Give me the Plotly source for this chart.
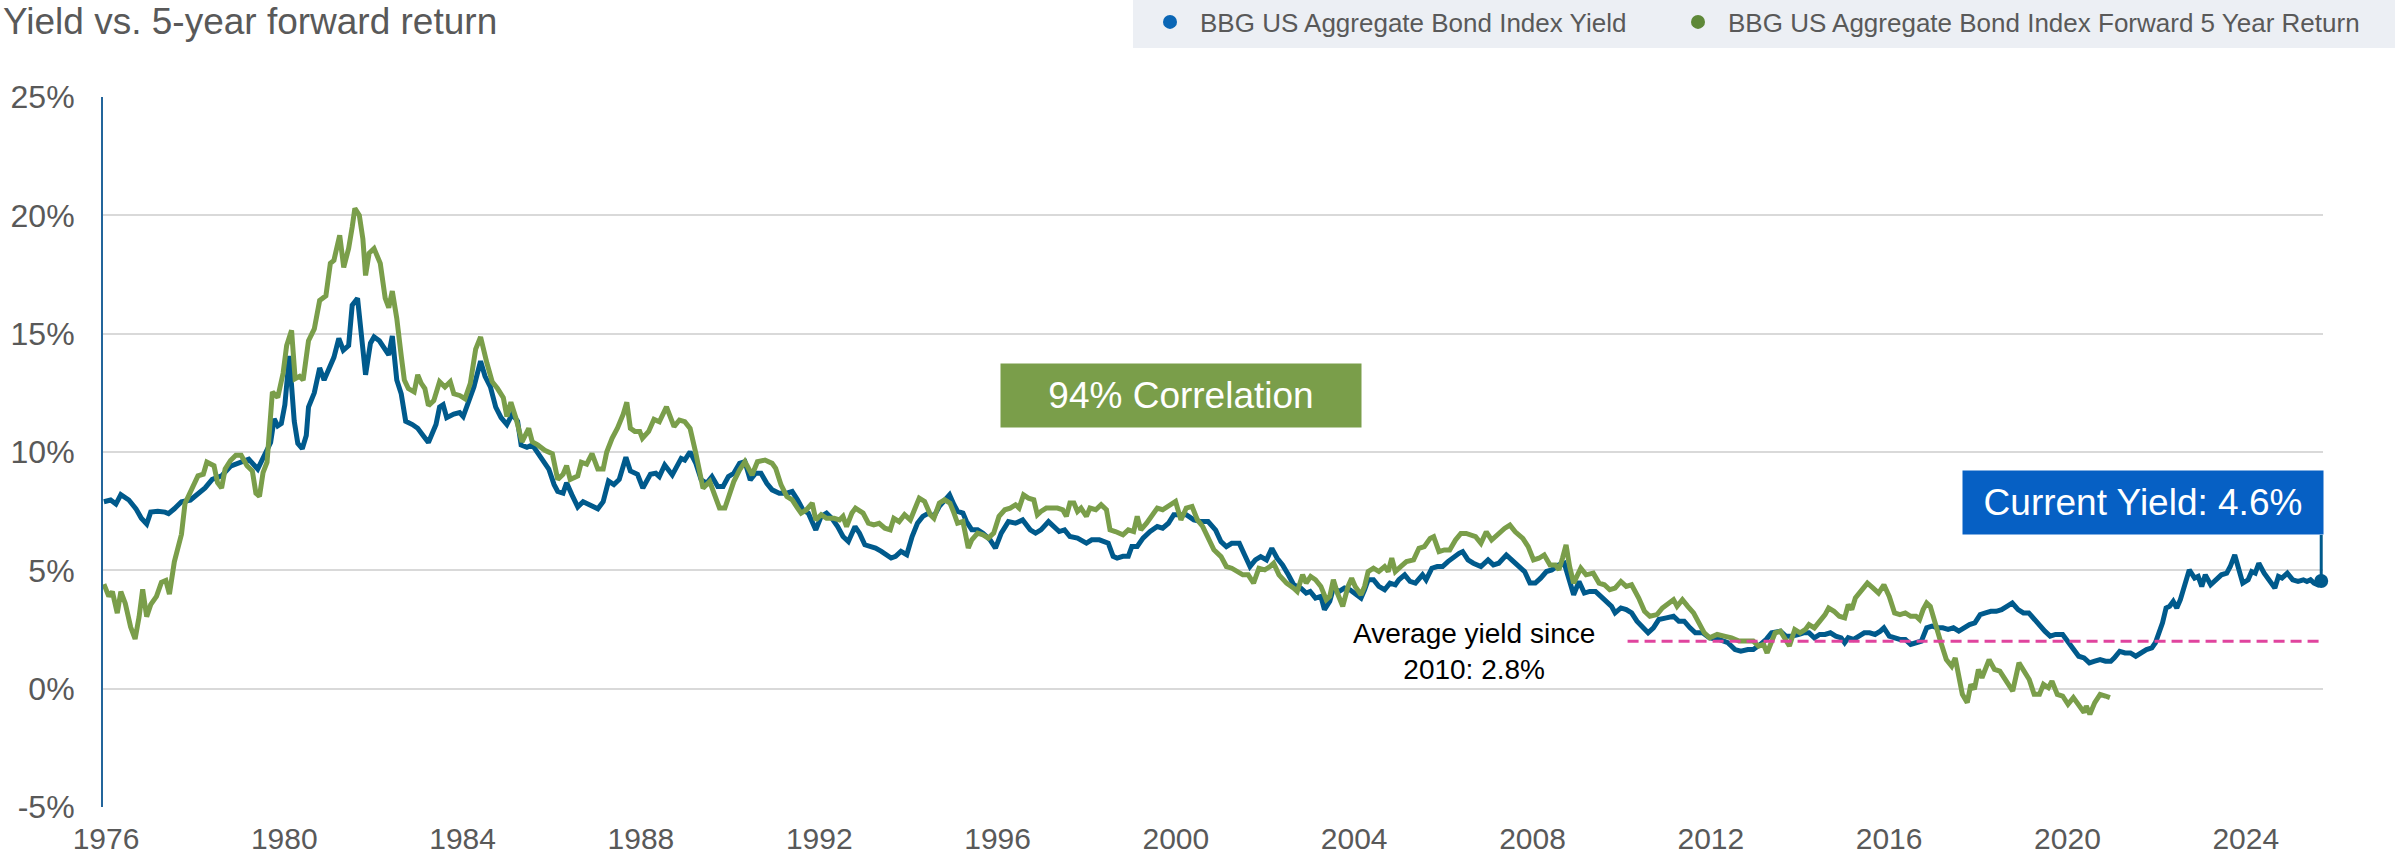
import plotly.graph_objects as go

# ---------------- data ----------------
title_text = "Yield vs. 5-year forward return"
yield_name = "BBG US Aggregate Bond Index Yield"
fwd_name = "BBG US Aggregate Bond Index Forward 5 Year Return"

yield_x = [
    1976.02, 1976.17, 1976.29, 1976.40, 1976.58, 1976.74, 1976.86, 1976.98, 1977.07, 1977.23,
    1977.39, 1977.47, 1977.60, 1977.76, 1977.96, 1978.13, 1978.29, 1978.45, 1978.66, 1978.86,
    1979.06, 1979.27, 1979.47, 1979.63, 1979.76, 1979.84, 1979.92, 1980.00, 1980.08, 1980.18,
    1980.29, 1980.37, 1980.47, 1980.56, 1980.61, 1980.74, 1980.86, 1980.96, 1981.10, 1981.18,
    1981.29, 1981.39, 1981.51, 1981.59, 1981.71, 1981.80, 1981.89, 1982.00, 1982.08, 1982.20,
    1982.33, 1982.41, 1982.49, 1982.59, 1982.69, 1982.79, 1982.94, 1983.06, 1983.18, 1983.30,
    1983.47, 1983.55, 1983.63, 1983.71, 1983.87, 1984.00, 1984.08, 1984.20, 1984.32, 1984.47,
    1984.57, 1984.69, 1984.81, 1984.93, 1985.06, 1985.18, 1985.30, 1985.38, 1985.51, 1985.63,
    1985.79, 1986.00, 1986.12, 1986.20, 1986.32, 1986.40, 1986.52, 1986.65, 1986.77, 1986.93,
    1987.10, 1987.22, 1987.34, 1987.46, 1987.58, 1987.73, 1987.83, 1987.99, 1988.11, 1988.28,
    1988.40, 1988.48, 1988.60, 1988.77, 1988.89, 1988.97, 1989.05, 1989.17, 1989.30, 1989.42,
    1989.54, 1989.66, 1989.79, 1989.91, 1990.03, 1990.15, 1990.28, 1990.40, 1990.52, 1990.64,
    1990.76, 1990.89, 1991.01, 1991.17, 1991.34, 1991.46, 1991.58, 1991.70, 1991.82, 1991.99,
    1992.11, 1992.23, 1992.35, 1992.48, 1992.60, 1992.72, 1992.87, 1992.97, 1993.09, 1993.21,
    1993.33, 1993.46, 1993.58, 1993.68, 1993.78, 1993.90, 1994.03, 1994.15, 1994.27, 1994.39,
    1994.52, 1994.64, 1994.76, 1994.88, 1994.99, 1995.09, 1995.17, 1995.29, 1995.37, 1995.49,
    1995.62, 1995.74, 1995.90, 1996.02, 1996.15, 1996.31, 1996.47, 1996.63, 1996.80, 1996.92,
    1997.04, 1997.21, 1997.33, 1997.45, 1997.57, 1997.69, 1997.86, 1998.06, 1998.18, 1998.35,
    1998.55, 1998.66, 1998.75, 1998.88, 1999.00, 1999.08, 1999.20, 1999.33, 1999.49, 1999.65,
    1999.77, 1999.90, 2000.02, 2000.14, 2000.30, 2000.47, 2000.63, 2000.79, 2000.96, 2001.08,
    2001.20, 2001.32, 2001.49, 2001.61, 2001.73, 2001.85, 2001.97, 2002.10, 2002.22, 2002.34,
    2002.46, 2002.59, 2002.71, 2002.87, 2002.99, 2003.08, 2003.20, 2003.32, 2003.40, 2003.52,
    2003.60, 2003.73, 2003.85, 2003.97, 2004.09, 2004.22, 2004.30, 2004.38, 2004.50, 2004.62,
    2004.75, 2004.87, 2004.99, 2005.07, 2005.20, 2005.32, 2005.44, 2005.60, 2005.68, 2005.81,
    2005.93, 2006.05, 2006.17, 2006.30, 2006.42, 2006.50, 2006.62, 2006.74, 2006.91, 2007.07,
    2007.19, 2007.31, 2007.48, 2007.60, 2007.76, 2007.89, 2008.01, 2008.13, 2008.25, 2008.38,
    2008.50, 2008.66, 2008.78, 2008.90, 2008.99, 2009.11, 2009.23, 2009.35, 2009.48, 2009.60,
    2009.72, 2009.84, 2009.92, 2010.05, 2010.17, 2010.29, 2010.41, 2010.54, 2010.66, 2010.78,
    2010.90, 2011.07, 2011.23, 2011.35, 2011.47, 2011.60, 2011.72, 2011.88, 2012.04, 2012.25,
    2012.45, 2012.61, 2012.74, 2012.90, 2013.02, 2013.18, 2013.31, 2013.43, 2013.63, 2013.75,
    2013.87, 2014.03, 2014.15, 2014.27, 2014.39, 2014.51, 2014.63, 2014.75, 2014.87, 2014.99,
    2015.07, 2015.15, 2015.27, 2015.39, 2015.51, 2015.63, 2015.75, 2015.87, 2015.95, 2016.07,
    2016.19, 2016.31, 2016.43, 2016.55, 2016.67, 2016.79, 2016.91, 2017.03, 2017.15, 2017.27,
    2017.39, 2017.51, 2017.63, 2017.75, 2017.87, 2017.99, 2018.11, 2018.23, 2018.35, 2018.47,
    2018.59, 2018.71, 2018.83, 2018.96, 2019.08, 2019.20, 2019.32, 2019.44, 2019.56, 2019.68,
    2019.80, 2019.96, 2020.08, 2020.20, 2020.32, 2020.44, 2020.56, 2020.68, 2020.80, 2020.92,
    2021.04, 2021.12, 2021.24, 2021.36, 2021.48, 2021.60, 2021.72, 2021.84, 2021.96, 2022.04,
    2022.12, 2022.20, 2022.28, 2022.36, 2022.44, 2022.52, 2022.60, 2022.68, 2022.80, 2022.92,
    2023.00, 2023.08, 2023.16, 2023.28, 2023.40, 2023.52, 2023.64, 2023.72, 2023.82, 2023.92,
    2024.00, 2024.12, 2024.20, 2024.28, 2024.36, 2024.48, 2024.60, 2024.72, 2024.80, 2024.88,
    2025.00, 2025.12, 2025.24, 2025.36, 2025.44, 2025.52, 2025.60, 2025.68, 2025.76,
]
yield_y = [
    7.90, 7.97, 7.80, 8.20, 7.97, 7.60, 7.20, 6.96, 7.46, 7.50,
    7.46, 7.40, 7.60, 7.90, 7.97, 8.26, 8.48, 8.84, 8.99, 9.40,
    9.57, 9.70, 9.28, 9.86, 10.40, 11.40, 11.10, 11.20, 12.00, 14.06,
    11.30, 10.36, 10.14, 10.70, 11.90, 12.50, 13.55, 13.04, 13.60, 14.00,
    14.80, 14.30, 14.50, 16.20, 16.50, 15.10, 13.26, 14.60, 14.86, 14.70,
    14.30, 14.10, 14.90, 13.04, 12.46, 11.30, 11.16, 11.00, 10.70, 10.40,
    11.16, 11.90, 12.00, 11.45, 11.60, 11.67, 11.50, 12.17, 12.75, 13.84,
    13.20, 12.75, 11.90, 11.45, 11.16, 11.60, 11.30, 10.30, 10.20, 10.30,
    9.86, 9.28, 8.62, 8.33, 8.26, 8.70, 8.19, 7.68, 7.90, 7.75,
    7.60, 7.90, 8.77, 8.62, 8.84, 9.78, 9.20, 9.06, 8.48, 9.06,
    9.10, 8.96, 9.45, 9.03, 9.52, 9.73, 9.66, 10.01, 9.52, 8.82,
    8.68, 8.96, 8.54, 8.54, 8.96, 9.10, 9.52, 9.59, 8.82, 9.10,
    9.10, 8.68, 8.40, 8.26, 8.26, 8.33, 7.98, 7.56, 7.42, 6.71,
    7.28, 7.42, 7.20, 6.85, 6.43, 6.22, 6.85, 6.57, 6.08, 6.01,
    5.94, 5.80, 5.66, 5.52, 5.59, 5.80, 5.66, 6.43, 6.99, 7.28,
    7.42, 7.28, 7.70, 7.98, 8.19, 7.77, 7.49, 7.42, 7.06, 6.71,
    6.71, 6.57, 6.29, 5.94, 6.57, 7.06, 6.99, 7.13, 6.71, 6.57,
    6.71, 7.06, 6.85, 6.64, 6.71, 6.43, 6.36, 6.15, 6.29, 6.29,
    6.15, 5.59, 5.52, 5.59, 5.59, 6.01, 6.01, 6.36, 6.64, 6.85,
    6.78, 6.99, 7.35, 7.35, 7.35, 7.13, 7.06, 7.06, 6.70, 6.21,
    6.00, 6.14, 6.14, 5.65, 5.16, 5.44, 5.58, 5.44, 5.93, 5.51,
    5.23, 4.81, 4.39, 4.25, 4.04, 4.11, 3.83, 3.90, 3.34, 3.69,
    4.25, 4.11, 4.25, 4.18, 4.04, 3.83, 4.18, 4.60, 4.60, 4.32,
    4.18, 4.46, 4.39, 4.60, 4.81, 4.53, 4.46, 4.81, 4.60, 5.09,
    5.16, 5.16, 5.37, 5.58, 5.72, 5.79, 5.44, 5.30, 5.16, 5.44,
    5.23, 5.30, 5.65, 5.44, 5.16, 4.95, 4.46, 4.46, 4.67, 4.95,
    5.02, 5.23, 5.30, 4.60, 3.97, 4.53, 4.04, 4.11, 4.11, 3.90,
    3.69, 3.48, 3.20, 3.41, 3.34, 3.20, 2.85, 2.57, 2.36, 2.57,
    2.92, 2.99, 3.06, 2.85, 2.85, 2.57, 2.36, 2.36, 2.15, 2.08,
    1.94, 1.65, 1.58, 1.65, 1.65, 1.87, 2.08, 2.36, 2.43, 2.22,
    2.22, 2.29, 2.36, 2.36, 2.15, 2.29, 2.29, 2.36, 2.22, 2.15,
    1.94, 2.15, 2.08, 2.22, 2.36, 2.36, 2.29, 2.43, 2.57, 2.22,
    2.15, 2.08, 2.08, 1.87, 1.94, 2.01, 2.57, 2.64, 2.57, 2.57,
    2.50, 2.57, 2.43, 2.57, 2.71, 2.78, 3.13, 3.20, 3.27, 3.27,
    3.34, 3.48, 3.62, 3.34, 3.20, 3.20, 2.92, 2.64, 2.43, 2.22,
    2.29, 2.29, 2.01, 1.65, 1.37, 1.30, 1.09, 1.16, 1.23, 1.16,
    1.16, 1.30, 1.58, 1.51, 1.51, 1.37, 1.51, 1.65, 1.72, 1.94,
    2.36, 2.78, 3.41, 3.48, 3.69, 3.41, 3.76, 4.32, 5.02, 4.67,
    4.74, 4.32, 4.81, 4.39, 4.60, 4.81, 4.88, 5.16, 5.65, 4.88,
    4.46, 4.60, 4.95, 4.88, 5.30, 4.88, 4.53, 4.25, 4.74, 4.67,
    4.88, 4.60, 4.53, 4.60, 4.53, 4.60, 4.46, 4.39, 4.55,
]

fwd_x = [
    1976.02, 1976.13, 1976.21, 1976.32, 1976.40, 1976.50, 1976.62, 1976.72, 1976.81, 1976.89,
    1976.98, 1977.07, 1977.20, 1977.31, 1977.41, 1977.49, 1977.60, 1977.76, 1977.84, 1977.96,
    1978.13, 1978.25, 1978.33, 1978.49, 1978.57, 1978.66, 1978.74, 1978.86, 1978.98, 1979.10,
    1979.23, 1979.35, 1979.43, 1979.51, 1979.59, 1979.68, 1979.80, 1979.92, 1980.04, 1980.12,
    1980.23, 1980.31, 1980.41, 1980.49, 1980.61, 1980.74, 1980.86, 1981.00, 1981.10, 1981.18,
    1981.31, 1981.40, 1981.51, 1981.59, 1981.65, 1981.75, 1981.83, 1981.89, 1981.97, 1982.08,
    1982.22, 1982.33, 1982.41, 1982.49, 1982.59, 1982.69, 1982.76, 1982.85, 1982.98, 1983.06,
    1983.14, 1983.22, 1983.30, 1983.42, 1983.55, 1983.67, 1983.79, 1983.87, 1984.00, 1984.12,
    1984.24, 1984.36, 1984.47, 1984.61, 1984.73, 1984.85, 1984.98, 1985.06, 1985.15, 1985.26,
    1985.40, 1985.55, 1985.63, 1985.75, 1985.91, 1986.08, 1986.20, 1986.32, 1986.40, 1986.48,
    1986.65, 1986.73, 1986.85, 1986.97, 1987.10, 1987.22, 1987.30, 1987.42, 1987.54, 1987.67,
    1987.75, 1987.83, 1987.93, 1988.04, 1988.10, 1988.24, 1988.36, 1988.48, 1988.64, 1988.81,
    1988.93, 1989.05, 1989.17, 1989.30, 1989.46, 1989.61, 1989.70, 1989.83, 1989.95, 1990.03,
    1990.15, 1990.28, 1990.40, 1990.56, 1990.68, 1990.85, 1991.01, 1991.09, 1991.21, 1991.34,
    1991.46, 1991.58, 1991.66, 1991.78, 1991.91, 1991.99, 1992.11, 1992.23, 1992.40, 1992.52,
    1992.60, 1992.68, 1992.80, 1992.88, 1993.05, 1993.17, 1993.29, 1993.41, 1993.54, 1993.66,
    1993.74, 1993.86, 1993.98, 1994.11, 1994.19, 1994.31, 1994.43, 1994.56, 1994.64, 1994.76,
    1994.88, 1995.00, 1995.09, 1995.17, 1995.29, 1995.41, 1995.49, 1995.62, 1995.74, 1995.86,
    1995.98, 1996.10, 1996.23, 1996.35, 1996.47, 1996.55, 1996.65, 1996.76, 1996.88, 1996.96,
    1997.04, 1997.16, 1997.29, 1997.41, 1997.53, 1997.61, 1997.69, 1997.78, 1997.86, 1997.94,
    1998.06, 1998.14, 1998.27, 1998.39, 1998.51, 1998.59, 1998.71, 1998.88, 1999.00, 1999.12,
    1999.20, 1999.28, 1999.41, 1999.53, 1999.65, 1999.77, 1999.90, 2000.06, 2000.18, 2000.30,
    2000.43, 2000.55, 2000.67, 2000.79, 2000.92, 2001.08, 2001.20, 2001.32, 2001.44, 2001.57,
    2001.69, 2001.81, 2001.93, 2002.06, 2002.18, 2002.26, 2002.38, 2002.55, 2002.71, 2002.79,
    2002.91, 2002.99, 2003.09, 2003.20, 2003.32, 2003.44, 2003.52, 2003.60, 2003.69, 2003.81,
    2003.93, 2004.01, 2004.09, 2004.22, 2004.30, 2004.38, 2004.50, 2004.62, 2004.75, 2004.83,
    2004.91, 2004.99, 2005.11, 2005.24, 2005.40, 2005.52, 2005.64, 2005.77, 2005.85, 2005.97,
    2006.09, 2006.21, 2006.34, 2006.46, 2006.58, 2006.70, 2006.79, 2006.91, 2007.03, 2007.15,
    2007.27, 2007.36, 2007.44, 2007.56, 2007.68, 2007.85, 2007.97, 2008.09, 2008.21, 2008.33,
    2008.46, 2008.58, 2008.66, 2008.74, 2008.82, 2008.90, 2008.99, 2009.15, 2009.27, 2009.43,
    2009.56, 2009.68, 2009.80, 2009.92, 2010.05, 2010.17, 2010.29, 2010.45, 2010.58, 2010.70,
    2010.86, 2010.98, 2011.11, 2011.23, 2011.31, 2011.43, 2011.55, 2011.68, 2011.80, 2011.92,
    2012.04, 2012.21, 2012.37, 2012.53, 2012.70, 2012.86, 2013.02, 2013.14, 2013.25, 2013.33,
    2013.43, 2013.51, 2013.63, 2013.71, 2013.83, 2013.95, 2014.07, 2014.19, 2014.27, 2014.39,
    2014.51, 2014.63, 2014.71, 2014.83, 2014.95, 2015.07, 2015.15, 2015.23, 2015.31, 2015.43,
    2015.58, 2015.71, 2015.83, 2015.95, 2016.07, 2016.19, 2016.31, 2016.43, 2016.55, 2016.67,
    2016.75, 2016.83, 2016.91, 2016.99, 2017.11, 2017.23, 2017.35, 2017.47, 2017.55, 2017.63,
    2017.71, 2017.82, 2017.90, 2017.98, 2018.07, 2018.15, 2018.31, 2018.43, 2018.55, 2018.67,
    2018.84, 2018.98, 2019.10, 2019.21, 2019.32, 2019.44, 2019.53, 2019.64, 2019.72, 2019.84,
    2019.96, 2020.08, 2020.20, 2020.32, 2020.44, 2020.49, 2020.57, 2020.68, 2020.80, 2020.92,
    2021.02,
]
fwd_y = [
    4.42, 3.90, 4.10, 3.19, 4.10, 3.60, 2.60, 2.10, 3.04, 4.20,
    3.04, 3.55, 3.90, 4.49, 4.57, 3.99, 5.36, 6.52, 7.83, 8.33,
    8.99, 9.06, 9.57, 9.42, 8.70, 8.48, 9.28, 9.64, 9.86, 9.86,
    9.42, 9.20, 8.26, 8.12, 9.13, 9.57, 12.54, 12.30, 13.33, 14.50,
    15.14, 13.10, 13.20, 13.04, 14.70, 15.20, 16.40, 16.60, 17.97, 18.10,
    19.16, 17.80, 18.60, 19.50, 20.30, 20.00, 19.00, 17.46, 18.40, 18.60,
    17.97, 16.50, 16.10, 16.80, 15.65, 14.06, 13.04, 12.68, 12.54, 13.26,
    12.90, 12.68, 11.96, 12.17, 12.97, 12.75, 12.97, 12.46, 12.39, 12.25,
    12.90, 14.35, 14.86, 13.77, 12.97, 12.68, 12.30, 11.50, 12.10, 11.45,
    10.43, 11.00, 10.43, 10.30, 10.07, 9.93, 8.84, 9.06, 9.42, 8.84,
    8.99, 9.57, 9.49, 9.93, 9.28, 9.28, 10.00, 10.58, 11.01, 11.60,
    12.10, 11.00, 10.87, 10.87, 10.58, 10.87, 11.38, 11.28, 11.91, 11.07,
    11.35, 11.28, 11.00, 9.94, 8.47, 8.75, 8.26, 7.63, 7.63, 8.12,
    8.75, 9.24, 9.59, 9.03, 9.59, 9.66, 9.52, 9.31, 8.61, 8.12,
    7.98, 7.63, 7.42, 7.56, 7.84, 7.13, 7.35, 7.20, 7.20, 7.13,
    7.28, 6.85, 7.42, 7.63, 7.42, 6.99, 6.92, 6.99, 6.78, 6.71,
    7.20, 7.06, 7.35, 7.13, 7.56, 8.05, 7.91, 7.35, 7.20, 7.84,
    7.98, 7.84, 7.42, 6.99, 7.06, 5.94, 6.29, 6.57, 6.50, 6.36,
    6.57, 7.28, 7.56, 7.63, 7.77, 7.63, 8.19, 8.05, 7.98, 7.35,
    7.49, 7.63, 7.63, 7.63, 7.56, 7.28, 7.84, 7.84, 7.49, 7.63,
    7.28, 7.63, 7.56, 7.77, 7.56, 6.71, 6.64, 6.50, 6.71, 6.64,
    7.28, 6.71, 6.99, 7.28, 7.63, 7.56, 7.70, 7.91, 7.13, 7.63,
    7.70, 7.13, 6.85, 6.36, 5.87, 5.58, 5.16, 5.09, 4.95, 4.81,
    4.81, 4.46, 5.09, 5.02, 5.16, 5.30, 4.81, 4.46, 4.25, 4.11,
    4.81, 4.46, 4.74, 4.60, 4.32, 3.76, 3.90, 4.60, 4.04, 3.48,
    4.32, 4.67, 4.32, 3.97, 4.32, 4.95, 5.09, 4.95, 5.16, 4.95,
    5.51, 4.95, 5.16, 5.37, 5.44, 5.93, 6.00, 6.35, 6.42, 5.79,
    5.86, 5.86, 6.28, 6.56, 6.56, 6.49, 6.42, 6.14, 6.63, 6.28,
    6.49, 6.70, 6.77, 6.91, 6.63, 6.35, 6.00, 5.44, 5.51, 5.65,
    5.23, 5.23, 5.02, 5.51, 6.07, 5.16, 4.46, 5.09, 4.81, 4.88,
    4.46, 4.39, 4.18, 4.25, 4.53, 4.32, 4.39, 3.83, 3.27, 3.06,
    3.13, 3.41, 3.62, 3.76, 3.48, 3.76, 3.48, 3.20, 2.78, 2.36,
    2.15, 2.29, 2.22, 2.15, 2.01, 2.01, 2.01, 1.80, 1.87, 1.51,
    2.01, 2.36, 2.43, 2.15, 1.80, 2.50, 2.36, 2.50, 2.71, 2.57,
    2.85, 3.13, 3.41, 3.27, 3.06, 2.99, 3.55, 3.34, 3.83, 4.11,
    4.46, 4.25, 4.04, 4.39, 3.90, 3.20, 3.13, 3.20, 3.06, 3.06,
    2.92, 3.34, 3.62, 3.48, 2.64, 1.94, 1.23, 0.95, 1.30, 0.53,
    -0.24, -0.59, 0.18, -0.03, 0.81, 0.46, 1.23, 0.81, 0.74, 0.39,
    -0.10, 1.09, 0.67, 0.39, -0.24, -0.24, 0.18, 0.04, 0.32, -0.24,
    -0.31, -0.66, -0.38, -0.73, -1.01, -0.73, -1.08, -0.59, -0.24, -0.31,
    -0.38,
]

avg_start = 2010.2
avg_value = 2.0
corr_label = "94% Correlation"
current_label = "Current Yield: 4.6%"
avg_label = "Average yield since<br>2010: 2.8%"
connector_top = 6.5

x_ticks = [1976, 1980, 1984, 1988, 1992, 1996, 2000, 2004, 2008, 2012, 2016, 2020, 2024]
x_ticktext = [str(v) for v in x_ticks]
y_ticks = [-5, 0, 5, 10, 15, 20, 25]
y_ticktext = ["-5%", "0%", "5%", "10%", "15%", "20%", "25%"]
x_range = [1976.0, 2025.8]
y_range = [-5, 25]

# ---------------- style ----------------
W, H = 2407, 862
M_L, M_R, M_T, M_B = 103, 84, 97, 55
FONT = "Liberation Sans, Arial, Helvetica, sans-serif"
BLUE_LINE = "#005A8C"
GREEN_LINE = "#7A9E4A"
LEG_BLUE = "#0A66B5"
LEG_GREEN = "#5E8838"
CUR_BOX = "#0660C4"
CORR_BOX = "#7A9E4A"
AVG_LINE = "#E0449E"
GRID = "#D9D9D9"
AXIS_BLUE = "#23659B"
TEXT_GRAY = "#595959"


def px_x(px):
    return (px - M_L) / (W - M_L - M_R)


def px_y(py):
    return (H - M_B - py) / (H - M_T - M_B)


fig = go.Figure()

fig.add_trace(go.Scatter(x=yield_x, y=yield_y, mode="lines", name=yield_name,
                         line=dict(color=BLUE_LINE, width=5), showlegend=False,
                         hoverinfo="skip"))
fig.add_trace(go.Scatter(x=fwd_x, y=fwd_y, mode="lines", name=fwd_name,
                         line=dict(color=GREEN_LINE, width=5), showlegend=False,
                         hoverinfo="skip"))
fig.add_trace(go.Scatter(x=[avg_start, x_range[1]], y=[avg_value, avg_value], mode="lines",
                         line=dict(color=AVG_LINE, width=3, dash="11px,6px"),
                         showlegend=False, hoverinfo="skip"))
fig.add_trace(go.Scatter(x=[yield_x[-1]], y=[yield_y[-1]], mode="markers",
                         marker=dict(color=BLUE_LINE, size=14), showlegend=False,
                         hoverinfo="skip", cliponaxis=False))
# legend entries
fig.add_trace(go.Scatter(x=[None], y=[None], mode="markers", name=yield_name,
                         marker=dict(color=LEG_BLUE, size=14), legendwidth=463))
fig.add_trace(go.Scatter(x=[None], y=[None], mode="markers", name=fwd_name,
                         marker=dict(color=LEG_GREEN, size=14), legendwidth=660))

# connector from current yield point to label box
fig.add_shape(type="line", xref="x", yref="y",
              x0=yield_x[-1], x1=yield_x[-1], y0=yield_y[-1], y1=connector_top,
              line=dict(color=BLUE_LINE, width=3))

# legend background
fig.add_shape(type="rect", xref="paper", yref="paper",
              x0=px_x(1133), x1=px_x(2395), y0=px_y(48), y1=px_y(0),
              fillcolor="#ECEFF4", line=dict(width=0), layer="below")

annotations = [
    dict(text=title_text, xref="paper", yref="paper", x=px_x(1), y=px_y(22),
         xanchor="left", yanchor="middle", showarrow=False,
         font=dict(family=FONT, size=37, color=TEXT_GRAY)),
    dict(text=corr_label, xref="paper", yref="paper", x=px_x(1181), y=px_y(395.5),
         xanchor="center", yanchor="middle", showarrow=False,
         width=360, height=63, borderpad=0, bgcolor=CORR_BOX,
         font=dict(family=FONT, size=37, color="white")),
    dict(text=current_label, xref="paper", yref="y", x=px_x(2324), y=connector_top,
         xanchor="right", yanchor="bottom", showarrow=False,
         width=360, height=63, borderpad=0, bgcolor=CUR_BOX,
         font=dict(family=FONT, size=37, color="white")),
    dict(text=avg_label, xref="paper", yref="paper", x=px_x(1474), y=px_y(651),
         xanchor="center", yanchor="middle", showarrow=False, align="center",
         font=dict(family=FONT, size=28, color="#000000")),
]

fig.update_layout(
    width=W, height=H,
    margin=dict(l=M_L, r=M_R, t=M_T, b=M_B, pad=0, autoexpand=False),
    paper_bgcolor="white", plot_bgcolor="white",
    font=dict(family=FONT, color=TEXT_GRAY),
    annotations=annotations,
    hovermode=False,
    legend=dict(orientation="h", x=px_x(1140), y=px_y(22), xanchor="left", yanchor="middle",
                bgcolor="rgba(0,0,0,0)", font=dict(family=FONT, size=26, color=TEXT_GRAY),
                itemwidth=50, traceorder="normal"),
    xaxis=dict(range=x_range, tickmode="array", tickvals=x_ticks, ticktext=x_ticktext,
               showgrid=False, zeroline=False, showline=False, ticks="",
               tickfont=dict(family=FONT, size=30, color=TEXT_GRAY),
               ticklabelstandoff=11, ticklabelshift=3),
    yaxis=dict(range=y_range, tickmode="array", tickvals=y_ticks, ticktext=y_ticktext,
               showgrid=True, gridcolor=GRID, gridwidth=2, zeroline=False,
               showline=True, linecolor=AXIS_BLUE, linewidth=2, ticks="",
               tickfont=dict(family=FONT, size=32, color=TEXT_GRAY),
               ticklabelstandoff=20),
)

fig.write_html("out.html", config={"displayModeBar": False},
               post_script="document.body.style.margin='0';")
